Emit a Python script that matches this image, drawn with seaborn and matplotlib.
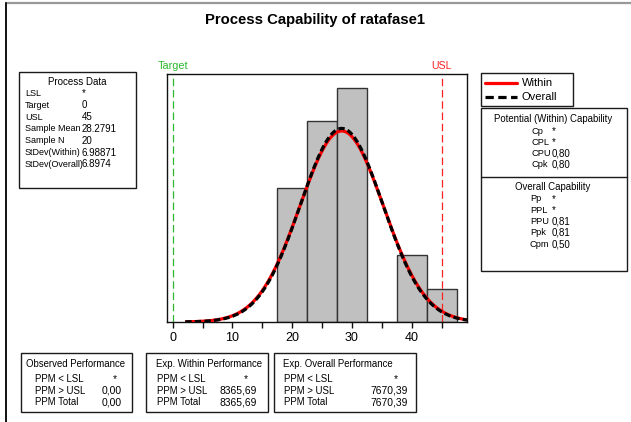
import numpy as np
import matplotlib
matplotlib.use("Agg")
import matplotlib.pyplot as plt
import seaborn as sns
from matplotlib.patches import Rectangle
from matplotlib.lines import Line2D

# ---- data -------------------------------------------------------------
bin_edges = [17.5, 22.5, 27.5, 32.5, 37.5, 42.5, 47.5]
bin_counts = [4, 6, 7, 0, 2, 1]
bin_mids = [(a + b) / 2 for a, b in zip(bin_edges[:-1], bin_edges[1:])]

target = 0
usl = 45
sample_mean = 28.2791
sample_n = 20
sd_within = 6.98871
sd_overall = 6.8974

x_ticks = [0, 5, 10, 15, 20, 25, 30, 35, 40, 45]
x_tick_labels = ["0", "", "10", "", "20", "", "30", "", "40", ""]

process_labels = ["LSL", "Target", "USL", "Sample Mean", "Sample N",
                  "StDev(Within)", "StDev(Overall)"]
process_values = ["*", "0", "45", "28.2791", "20", "6.98871", "6.8974"]

within_cap_labels = ["Cp", "CPL", "CPU", "Cpk"]
within_cap_values = ["*", "*", "0,80", "0,80"]
overall_cap_labels = ["Pp", "PPL", "PPU", "Ppk", "Cpm"]
overall_cap_values = ["*", "*", "0,81", "0,81", "0,50"]

perf_labels = ["PPM < LSL", "PPM > USL", "PPM Total"]
observed_values = ["*", "0,00", "0,00"]
exp_within_values = ["*", "8365,69", "8365,69"]
exp_overall_values = ["*", "7670,39", "7670,39"]

# ---- figure -----------------------------------------------------------
sns.set_theme(style="white")
plt.rcParams["font.family"] = ["Liberation Sans", "DejaVu Sans"]

W, H = 631, 422
fig = plt.figure(figsize=(W / 100, H / 100), dpi=100)
fig.patch.set_facecolor("white")


def fx(x):
    return x / W


def fy(y):
    return 1 - y / H


def box(x0, y0, x1, y1, lw=1.0, color="#1a1a1a"):
    fig.patches.append(Rectangle((fx(x0), fy(y1)), fx(x1) - fx(x0), fy(y0) - fy(y1),
                                 transform=fig.transFigure, fill=False,
                                 edgecolor=color, linewidth=lw))


def hline(x0, x1, y, color="#1a1a1a", lw=1.0):
    fig.lines.append(Line2D([fx(x0), fx(x1)], [fy(y), fy(y)],
                            transform=fig.transFigure, color=color, linewidth=lw))


def txt(x, y, s, ha="left", size=6.8, **kw):
    fig.text(fx(x), fy(y), s, ha=ha, va="center", fontsize=size, color="black", **kw)


# outer frame of the graph window
fig.lines.append(Line2D([fx(6), fx(631)], [fy(3), fy(3)], transform=fig.transFigure,
                        color="#999999", linewidth=1.6))
fig.lines.append(Line2D([fx(6), fx(6)], [fy(3), fy(422)], transform=fig.transFigure,
                        color="#111111", linewidth=1.4))

# title
fig.text(fx(315), fy(20), "Process Capability of ratafase1", ha="center", va="center",
         fontsize=10.7, fontweight="bold", color="black")

# ---- histogram + fitted curves -----------------------------------------
ax = fig.add_axes([fx(167), fy(322), fx(467) - fx(167), fy(74) - fy(322)])
sns.histplot(x=bin_mids, weights=bin_counts, bins=bin_edges, stat="density",
             color="#C0C0C0", edgecolor="#333333", linewidth=1.0, alpha=1.0, ax=ax)

xs = np.linspace(2.1, 49.25, 400)
pdf_within = np.exp(-0.5 * ((xs - sample_mean) / sd_within) ** 2) / (sd_within * np.sqrt(2 * np.pi))
pdf_overall = np.exp(-0.5 * ((xs - sample_mean) / sd_overall) ** 2) / (sd_overall * np.sqrt(2 * np.pi))
ax.plot(xs, pdf_within, color="#FF0000", linewidth=2.3, solid_capstyle="butt", zorder=3)
ax.plot(xs, pdf_overall, color="black", linewidth=2.3, linestyle=(0, (2.0, 1.0)),
        dash_capstyle="butt", zorder=4)

ax.axvline(target, color="#2EB82E", linewidth=0.9, linestyle=(0, (6, 3)), zorder=2)
ax.axvline(usl, color="#FF2222", linewidth=0.9, linestyle=(0, (6, 3)), zorder=2)
ax.text(target, 1 + 8 / 248, "Target", transform=ax.get_xaxis_transform(),
        ha="center", va="center", fontsize=7.8, color="#2EB82E")
ax.text(usl, 1 + 8 / 248, "USL", transform=ax.get_xaxis_transform(),
        ha="center", va="center", fontsize=7.6, color="#FF2222")

ax.set_xlim(-0.95, 49.25)
ax.set_ylim(0, 0.0741)
ax.set_xticks(x_ticks)
ax.set_xticklabels(x_tick_labels)
ax.set_yticks([])
ax.set_xlabel("")
ax.set_ylabel("")
ax.tick_params(axis="x", direction="out", length=4, width=1, color="#111111",
               labelsize=9, pad=3, bottom=True, labelcolor="black")
for s in ax.spines.values():
    s.set_visible(True)
    s.set_color("#111111")
    s.set_linewidth(1.0)

# ---- Process Data panel ------------------------------------------------
box(19, 72, 136, 188)
txt(77.5, 82, "Process Data", ha="center", size=7.0)
for i, (lab, val) in enumerate(zip(process_labels, process_values)):
    y = 93.5 + i * 11.8
    txt(25, y, lab, size=6.45)
    txt(82, y, val, size=7.0)

# ---- legend ------------------------------------------------------------
box(481, 73, 573, 106)
fig.lines.append(Line2D([fx(485), fx(517)], [fy(83), fy(83)], transform=fig.transFigure,
                        color="#FF0000", linewidth=2.3))
fig.lines.append(Line2D([fx(485), fx(517)], [fy(97), fy(97)], transform=fig.transFigure,
                        color="black", linewidth=2.3, linestyle=(0, (2.6, 1.4))))
txt(522, 83, "Within", size=8)
txt(522, 97, "Overall", size=8)

# ---- capability panel --------------------------------------------------
box(481, 108, 627, 271)
hline(481, 627, 177)
txt(553, 119, "Potential (Within) Capability", ha="center", size=6.9)
for i, (lab, val) in enumerate(zip(within_cap_labels, within_cap_values)):
    y = 131.5 + i * 11
    txt(531, y, lab, size=6.7)
    txt(552, y, val, size=7.0)
txt(553, 187, "Overall Capability", ha="center", size=6.9)
for i, (lab, val) in enumerate(zip(overall_cap_labels, overall_cap_values)):
    y = 199 + i * 11.3
    txt(530, y, lab, size=6.7)
    txt(552, y, val, size=7.0)

# ---- performance panels ------------------------------------------------
panels = [
    (21, 132, "Observed Performance", observed_values, 26, 35, 122, 115),
    (146, 268, "Exp. Within Performance", exp_within_values, 156, 157, 257, 246),
    (274, 416, "Exp. Overall Performance", exp_overall_values, 283, 284, 408, 396),
]
for x0, x1, title, values, tx, lx, vx, sx in panels:
    box(x0, 353, x1, 412)
    txt(tx, 364, title, size=6.9)
    for i, (lab, val) in enumerate(zip(perf_labels, values)):
        y = 379 + i * 11.7
        txt(lx, y, lab, size=6.9)
        if val == "*":
            txt(sx, y, val, ha="center", size=7.4)
        else:
            txt(vx, y, val, ha="right", size=7.4)

fig.savefig("out.png", dpi=100, facecolor="white")
